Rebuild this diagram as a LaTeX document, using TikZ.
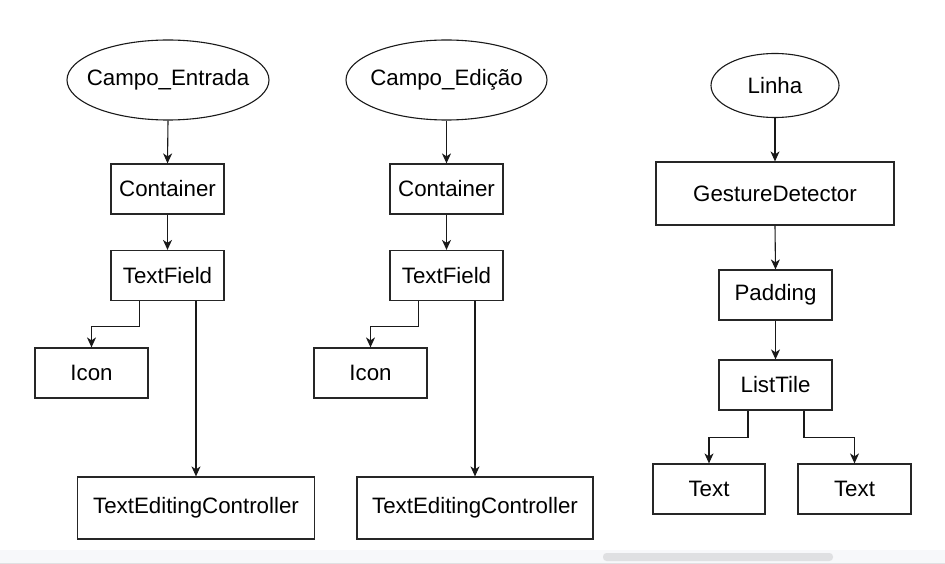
\documentclass[tikz,border=0pt]{standalone}
\usepackage{fontspec}
\setmainfont{Liberation Sans}
\usetikzlibrary{shapes.geometric,arrows.meta}
\begin{document}
\begin{tikzpicture}[x=1pt,y=-1pt,
  box/.style={draw=black!85,line width=1.2pt,inner sep=0pt,font=\fontsize{22.3}{26}\selectfont},
  oval/.style={ellipse,draw=black!90,line width=1.1pt,inner sep=0pt,label={[font=\fontsize{22.3}{26}\selectfont]center:#1}},
  arr/.style={-{Stealth[length=10pt,width=9pt,inset=3pt]},line width=1.1pt,draw=black!90}]
\useasboundingbox (0,0) rectangle (945,564);
\fill[white] (0,0) rectangle (945,564);
% bottom strip
\fill[fill={rgb,255:red,247;green,248;blue,250}] (0,550) rectangle (945,564);
\draw[draw={rgb,255:red,224;green,224;blue,226},line width=1pt] (0,563.5) -- (945,563.5);
\fill[fill={rgb,255:red,223;green,224;blue,226},rounded corners=3.5pt] (603,553) rectangle (833,561);

% tree 1
\node[oval=Campo\_Entrada,minimum width=202,minimum height=80] (e1) at (168,80) {};
\node[box,minimum width=113,minimum height=50] (c1) at (167.5,189) {Container};
\node[box,minimum width=113,minimum height=50] (tf1) at (167.5,275.5) {TextField};
\node[box,minimum width=113,minimum height=50] (ic1) at (91.5,373) {Icon};
\node[box,minimum width=237,minimum height=62] (tec1) at (196,508) {TextEditingController};
\draw[arr] (e1.south) -- (c1.north);
\draw[arr] (c1.south) -- (tf1.north);
\draw[arr] ([xshift=-28pt]tf1.south) -- ++(0,25) -| (ic1.north);
\draw[arr] ([xshift=28.5pt]tf1.south) -- (tec1.north);

% tree 2
\node[oval=Campo\_Edição,minimum width=201,minimum height=80] (e2) at (446.5,80) {};
\node[box,minimum width=113,minimum height=50] (c2) at (446.5,189) {Container};
\node[box,minimum width=113,minimum height=50] (tf2) at (446.5,275.5) {TextField};
\node[box,minimum width=113,minimum height=50] (ic2) at (370.5,373) {Icon};
\node[box,minimum width=236,minimum height=62] (tec2) at (475,508) {TextEditingController};
\draw[arr] (e2.south) -- (c2.north);
\draw[arr] (c2.south) -- (tf2.north);
\draw[arr] ([xshift=-28pt]tf2.south) -- ++(0,25) -| (ic2.north);
\draw[arr] ([xshift=28.5pt]tf2.south) -- (tec2.north);

% tree 3
\node[oval=Linha,minimum width=128,minimum height=64] (e3) at (775,85.5) {};
\node[box,minimum width=238,minimum height=63] (gd) at (775,193.5) {GestureDetector};
\node[box,minimum width=113,minimum height=50] (pd) at (775.5,295) {Padding};
\node[box,minimum width=113,minimum height=50] (lt) at (775.5,385) {ListTile};
\node[box,minimum width=112,minimum height=50] (t1) at (709,489) {Text};
\node[box,minimum width=113,minimum height=50] (t2) at (854.5,489) {Text};
\draw[arr] (e3.south) -- (gd.north);
\draw[arr] (gd.south) -- (pd.north);
\draw[arr] (pd.south) -- (lt.north);
\draw[arr] ([xshift=-27.5pt]lt.south) -- ++(0,27) -| (t1.north);
\draw[arr] ([xshift=28.5pt]lt.south) -- ++(0,27) -| (t2.north);
\end{tikzpicture}
\end{document}
